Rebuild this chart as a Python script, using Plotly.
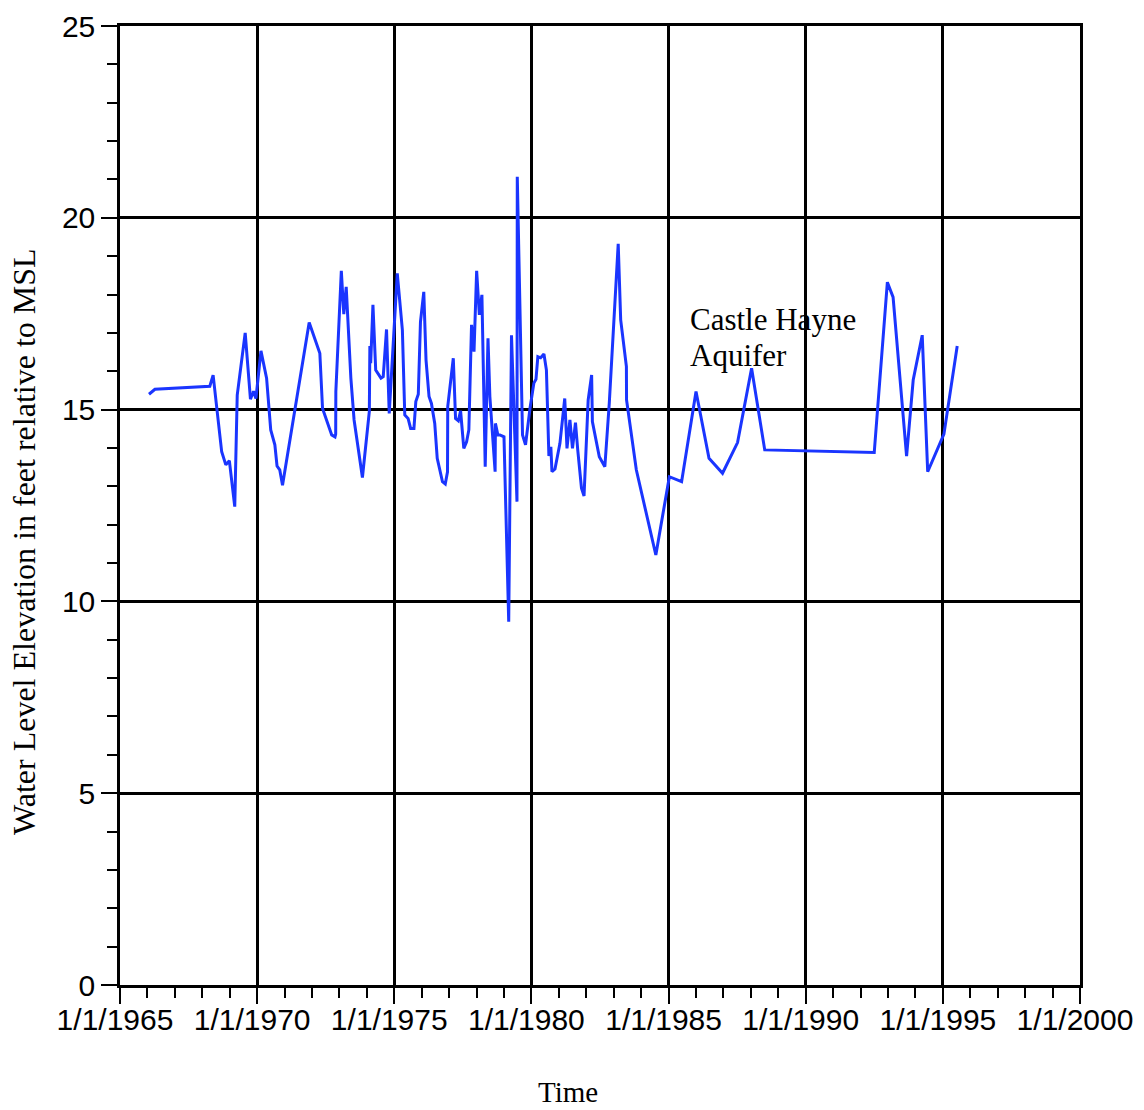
import plotly.graph_objects as go

dates = [
    "1966-01-22", "1966-04-11", "1968-04-11", "1968-05-25", "1968-09-16", "1968-11-10", "1968-12-27",
    "1969-03-09", "1969-04-11", "1969-07-26", "1969-10-04", "1969-11-14", "1969-12-16",
    "1970-02-21", "1970-05-07", "1970-07-01", "1970-08-25", "1970-09-23", "1970-10-29", "1970-12-05",
    "1971-11-25", "1972-04-15", "1972-05-21", "1972-09-20", "1972-11-03", "1972-11-12", "1972-11-14",
    "1973-01-26", "1973-02-28", "1973-04-01", "1973-06-02", "1973-07-15", "1973-11-03",
    "1974-02-03", "1974-02-10", "1974-02-21", "1974-03-23", "1974-04-29", "1974-07-08", "1974-08-07",
    "1974-09-20", "1974-10-26",
    "1975-02-10", "1975-04-19", "1975-05-21", "1975-07-04", "1975-08-07", "1975-09-20", "1975-10-15",
    "1975-11-17", "1975-12-16",
    "1976-01-29", "1976-02-28", "1976-04-08", "1976-05-10", "1976-06-23", "1976-07-26", "1976-10-04",
    "1976-11-10", "1976-12-10", "1976-12-13",
    "1977-02-25", "1977-03-27", "1977-05-03", "1977-06-02", "1977-07-15", "1977-08-21", "1977-09-20",
    "1977-10-26", "1977-11-28",
    "1978-01-02", "1978-02-07", "1978-03-13", "1978-04-26", "1978-06-02", "1978-06-27", "1978-09-05",
    "1978-09-09", "1978-10-11", "1978-11-07",
    "1979-01-01", "1979-03-05", "1979-04-11", "1979-06-23", "1979-06-27", "1979-09-05", "1979-10-15",
    "1979-12-13",
    "1980-02-03", "1980-03-02", "1980-03-27", "1980-05-03", "1980-06-16", "1980-07-19", "1980-08-21",
    "1980-09-16", "1980-10-01", "1980-11-10",
    "1981-01-15", "1981-03-20", "1981-04-19", "1981-05-28", "1981-07-01", "1981-08-10", "1981-09-09",
    "1981-10-29", "1981-12-02",
    "1982-01-26", "1982-03-13", "1982-03-23", "1982-06-23", "1982-09-05", "1982-11-03",
    "1983-03-02", "1983-04-04", "1983-06-19", "1983-06-21", "1983-10-29",
    "1984-07-15", "1985-01-11", "1985-06-23", "1986-01-01", "1986-06-23", "1986-12-20",
    "1987-07-08", "1988-01-11", "1988-07-04",
    "1992-07-01", "1992-12-23", "1993-03-09", "1993-09-05", "1993-12-02", "1994-04-01", "1994-06-13",
    "1995-01-15", "1995-07-11",
]

levels = [
    15.40, 15.53, 15.61, 15.90, 13.90, 13.56, 13.67,
    12.47, 15.38, 17.00, 15.27, 15.48, 15.29,
    16.53, 15.82, 14.47, 14.08, 13.53, 13.43, 13.03,
    17.27, 16.47, 15.03, 14.34, 14.29, 14.36, 15.47,
    18.62, 17.49, 18.20, 15.82, 14.73, 13.23,
    14.95, 16.66, 16.21, 17.73, 16.03, 15.82, 15.86,
    17.09, 14.90,
    18.55, 17.07, 14.86, 14.77, 14.51, 14.51, 15.21,
    15.40, 17.29,
    18.07, 16.29, 15.34, 15.16, 14.64, 13.73, 13.12,
    13.06, 13.38, 15.08,
    16.34, 14.77, 14.71, 14.97, 13.99, 14.16, 14.47,
    17.21, 16.51,
    18.62, 17.47, 17.99, 13.51, 16.86, 15.34, 13.38,
    14.64, 14.34, 14.34,
    14.29, 9.47, 16.94, 12.60, 21.07, 14.34, 14.08,
    15.03,
    15.69, 15.79, 16.38, 16.35, 16.45, 16.03, 13.79,
    14.03, 13.38, 13.45,
    14.12, 15.29, 13.99, 14.73, 13.99, 14.66, 13.95,
    12.95, 12.75,
    15.25, 15.90, 14.69, 13.77, 13.51, 15.16,
    19.32, 17.34, 16.12, 15.25, 13.43,
    11.21, 13.25, 13.12, 15.47, 13.73, 13.34,
    14.14, 16.08, 13.95,
    13.88, 18.32, 17.93, 13.79, 15.77, 16.94, 13.38,
    14.36, 16.66,
]

x_tick_vals = ["1965-01-01", "1970-01-01", "1975-01-01", "1980-01-01",
               "1985-01-01", "1990-01-01", "1995-01-01", "2000-01-01"]
x_tick_text = ["1/1/1965", "1/1/1970", "1/1/1975", "1/1/1980",
               "1/1/1985", "1/1/1990", "1/1/1995", "1/1/2000"]
y_tick_vals = [0, 5, 10, 15, 20, 25]

fig = go.Figure()
fig.add_trace(go.Scatter(
    x=dates, y=levels, mode="lines",
    line=dict(color="#1a35ff", width=3),
    showlegend=False, hoverinfo="skip",
))

tick_font = dict(family="Liberation Sans, Arial, sans-serif", size=30, color="black")
serif = "Liberation Serif, Times New Roman, serif"

fig.update_xaxes(
    type="date",
    range=["1965-01-01", "2000-01-01"],
    tickvals=x_tick_vals, ticktext=x_tick_text,
    tickfont=tick_font,
    ticks="outside", ticklen=16, tickwidth=2, tickcolor="black",
    ticklabelstandoff=-10, ticklabelshift=-5,
    minor=dict(dtick="M12", tick0="1965-01-01", ticks="outside", ticklen=10,
               tickwidth=1.5, tickcolor="black", showgrid=False),
    showgrid=True, gridcolor="black", gridwidth=2.5,
    showline=True, linecolor="black", linewidth=2.5, mirror=True,
    zeroline=False, automargin=False,
)
fig.update_yaxes(
    range=[0, 25],
    tickvals=y_tick_vals,
    tickfont=tick_font,
    ticks="outside", ticklen=16, tickwidth=2, tickcolor="black",
    minor=dict(dtick=1, ticks="outside", ticklen=10, tickwidth=1.5,
               tickcolor="black", showgrid=False),
    showgrid=True, gridcolor="black", gridwidth=2.5,
    showline=True, linecolor="black", linewidth=2.5, mirror=True,
    zeroline=False, automargin=False,
)

# axis titles as annotations for precise placement
fig.add_annotation(
    x=-0.1, y=0.462, xref="paper", yref="paper",
    text="Water Level Elevation in feet relative to MSL", textangle=-90,
    showarrow=False, xanchor="center", yanchor="middle",
    font=dict(family=serif, size=32, color="black"),
)
fig.add_annotation(
    x=0.4667, y=-0.1116, xref="paper", yref="paper",
    text="Time", showarrow=False, xanchor="center", yanchor="middle",
    font=dict(family=serif, size=29, color="black"),
)

fig.add_annotation(
    x="1985-10-01", y=17.36, xref="x", yref="y",
    text="Castle Hayne", showarrow=False, borderpad=0,
    xanchor="left", yanchor="middle", align="left",
    font=dict(family=serif, size=31, color="black"),
)
fig.add_annotation(
    x="1985-10-01", y=16.42, xref="x", yref="y",
    text="Aquifer", showarrow=False, borderpad=0,
    xanchor="left", yanchor="middle", align="left",
    font=dict(family=serif, size=31, color="black"),
)

fig.update_layout(
    width=1144, height=1110,
    margin=dict(l=120, r=64, t=26, b=125),
    paper_bgcolor="white", plot_bgcolor="white",
)

fig.write_html("out.html")
